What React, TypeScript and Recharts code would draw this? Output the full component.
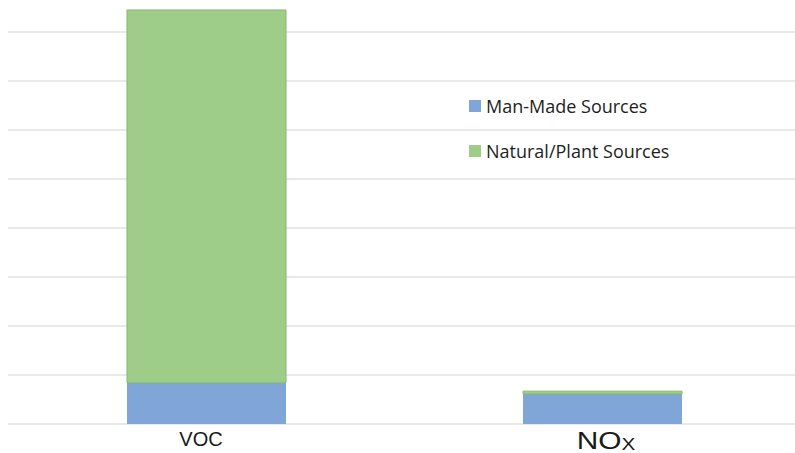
import { BarChart, Bar, XAxis, YAxis, CartesianGrid, Legend } from "recharts";

const categories = ["VOC", "NOx"];
const manMade = [84, 61];
const natural = [761, 6];
const yTicks = [0, 100, 200, 300, 400, 500, 600, 700, 800, 900];

const data = categories.map((name, i) => ({
  name,
  manMade: manMade[i],
  natural: natural[i],
}));

const legendItems = [
  { label: "Man-Made Sources", color: "#7fa6d6" },
  { label: "Natural/Plant Sources", color: "#9dcd88" },
];

const CategoryTick = (props: any) => {
  const { x, y, payload } = props;
  if (payload.value === "NOx") {
    // the source label is stretched sideways
    return (
      <g transform={`translate(${x + 4},0) scale(1.22,1)`}>
        <text x={0} y={y + 17} textAnchor="middle" fill="#1a1a1a" fontFamily="Liberation Sans, Arial, sans-serif">
          <tspan fontSize={24.5}>NO</tspan>
          <tspan fontSize={17} dy={1}>X</tspan>
        </text>
      </g>
    );
  }
  return (
    <text x={x - 5} y={y + 14} textAnchor="middle" fill="#1a1a1a" fontSize={20} fontFamily="Liberation Sans, Arial, sans-serif">
      {payload.value}
    </text>
  );
};

const LegendBox = () => (
  <div style={{ fontFamily: "'Open Sans', sans-serif", fontSize: 18, color: "#1e1e1e" }}>
    {legendItems.map((item) => (
      <div key={item.label} style={{ display: "flex", alignItems: "center", height: 45 }}>
        <span style={{ width: 12, height: 12, background: item.color, marginRight: 5, display: "inline-block" }} />
        <span>{item.label}</span>
      </div>
    ))}
  </div>
);

export default function App() {
  return (
    <div style={{ position: "absolute", left: 0, top: 0, background: "#fff" }}>
      {/* top of the plot sits above the picture, like the cropped original */}
      <BarChart width={795} height={453} data={data} margin={{ top: -17, right: -5, bottom: 0, left: 8 }}>
        <CartesianGrid horizontal vertical={false} stroke="#e2e2e2" strokeWidth={1.5} />
        <XAxis dataKey="name" height={29} axisLine={false} tickLine={false} tick={<CategoryTick />} interval={0} />
        <YAxis hide domain={[0, 900]} ticks={yTicks} />
        <Legend
          layout="vertical"
          align="center"
          verticalAlign="middle"
          wrapperStyle={{ left: 469, top: 83, width: 260 }}
          content={<LegendBox />}
        />
        <Bar dataKey="manMade" stackId="a" fill="#7fa6d6" barSize={159} isAnimationActive={false} />
        <Bar dataKey="natural" stackId="a" fill="#9dcd88" stroke="#84b870" strokeWidth={1} barSize={159} isAnimationActive={false} />
      </BarChart>
    </div>
  );
}
